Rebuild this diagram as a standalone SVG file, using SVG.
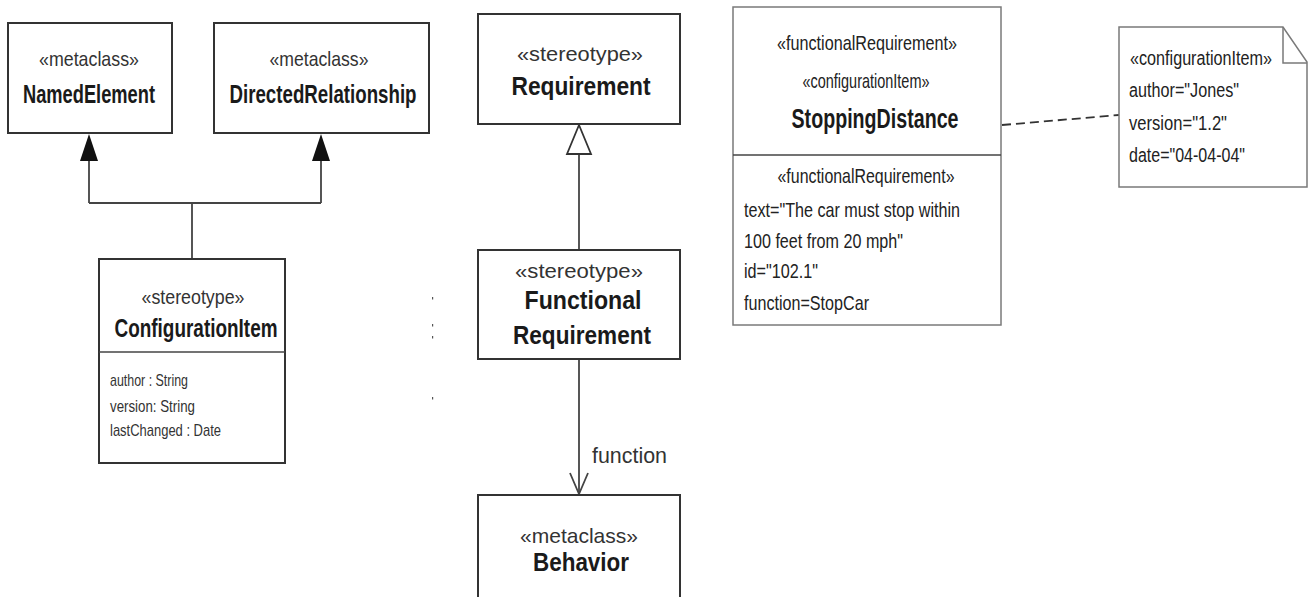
<svg xmlns="http://www.w3.org/2000/svg" width="1309" height="597" viewBox="0 0 1309 597">
  <defs>
    <style>
      .box { fill: #ffffff; stroke: #333333; stroke-width: 2; }
      .lbox { fill: #ffffff; stroke: #7a7a7a; stroke-width: 1.5; }
      .sep { stroke: #444444; stroke-width: 1.5; }
      .line { fill: none; stroke: #444444; stroke-width: 1.8; }
      .dash { fill: none; stroke: #333333; stroke-width: 1.8; stroke-dasharray: 9 5; }
      text { font-family: "Liberation Sans", Arial, sans-serif; fill: #1a1a1a; }
      .st { font-size: 21px; fill: #333333; }
      .nm { font-size: 26px; font-weight: bold; }
      .c { text-anchor: middle; }
      .attr { font-size: 17px; fill: #333333; }
      .big { font-size: 28px; font-weight: bold; }
      .val { font-size: 21px; fill: #222222; }
      .nt { font-size: 20px; fill: #222222; }
    </style>
  </defs>

  <!-- connectors -->
  <g id="connectors">
    <!-- ConfigurationItem extends NamedElement and DirectedRelationship -->
    <path class="line" d="M192,259 L192,203 M89,203 L321,203 M89,203 L89,160 M321,203 L321,160"/>
    <path d="M89,134 L98,161 L80,161 Z" fill="#111111"/>
    <path d="M321,134 L330,161 L312,161 Z" fill="#111111"/>
    <!-- generalization FunctionalRequirement -> Requirement -->
    <path class="line" d="M579,250 L579,154"/>
    <path d="M579,125 L591,154 L567,154 Z" fill="#ffffff" stroke="#333333" stroke-width="1.8"/>
    <!-- association "function" -->
    <path class="line" d="M579,359 L579,494"/>
    <path class="line" d="M570,473 L579,494 L588,473"/>
    <text x="592" y="463" style="font-size:22px;fill:#333333" textLength="75" lengthAdjust="spacingAndGlyphs">function</text>
    <!-- note anchor -->
    <path class="dash" d="M1002,125 L1119,115"/>
  </g>

  <!-- metaclass NamedElement -->
  <g id="namedElement">
    <rect class="box" x="8" y="23" width="164" height="110"/>
    <text class="st c" x="89" y="66" textLength="100" lengthAdjust="spacingAndGlyphs">«metaclass»</text>
    <text class="nm c" x="89" y="103" textLength="132" lengthAdjust="spacingAndGlyphs">NamedElement</text>
  </g>

  <!-- metaclass DirectedRelationship -->
  <g id="directedRelationship">
    <rect class="box" x="214" y="23" width="215" height="110"/>
    <text class="st c" x="319" y="66" textLength="99" lengthAdjust="spacingAndGlyphs">«metaclass»</text>
    <text class="nm c" x="323" y="103" textLength="187" lengthAdjust="spacingAndGlyphs">DirectedRelationship</text>
  </g>

  <!-- stereotype ConfigurationItem -->
  <g id="configurationItem">
    <rect class="box" x="99" y="259" width="186" height="204"/>
    <line class="sep" x1="99" y1="352" x2="285" y2="352"/>
    <text class="st c" x="193" y="304" textLength="103" lengthAdjust="spacingAndGlyphs">«stereotype»</text>
    <text class="nm c" x="196" y="337" textLength="163" lengthAdjust="spacingAndGlyphs">ConfigurationItem</text>
    <text class="attr" x="110" y="386" textLength="78" lengthAdjust="spacingAndGlyphs">author : String</text>
    <text class="attr" x="110" y="412" textLength="85" lengthAdjust="spacingAndGlyphs">version: String</text>
    <text class="attr" x="110" y="436" textLength="111" lengthAdjust="spacingAndGlyphs">lastChanged : Date</text>
  </g>

  <!-- stereotype Requirement -->
  <g id="requirement">
    <rect class="box" x="478" y="14" width="202" height="110"/>
    <text class="st c" x="580" y="61" textLength="126" lengthAdjust="spacingAndGlyphs">«stereotype»</text>
    <text class="nm c" x="581" y="95" textLength="139" lengthAdjust="spacingAndGlyphs">Requirement</text>
  </g>

  <!-- stereotype Functional Requirement -->
  <g id="functionalRequirement">
    <rect class="box" x="478" y="250" width="202" height="109"/>
    <text class="st c" x="579" y="278" textLength="128" lengthAdjust="spacingAndGlyphs">«stereotype»</text>
    <text class="nm c" x="583" y="309" textLength="117" lengthAdjust="spacingAndGlyphs">Functional</text>
    <text class="nm c" x="582" y="344" textLength="138" lengthAdjust="spacingAndGlyphs">Requirement</text>
  </g>

  <!-- metaclass Behavior -->
  <g id="behavior">
    <rect class="box" x="478" y="495" width="202" height="120"/>
    <text class="st c" x="579" y="543" textLength="118" lengthAdjust="spacingAndGlyphs">«metaclass»</text>
    <text class="nm c" x="581" y="571" textLength="96" lengthAdjust="spacingAndGlyphs">Behavior</text>
  </g>

  <!-- instance StoppingDistance -->
  <g id="stoppingDistance">
    <rect class="lbox" x="733" y="7" width="268" height="318"/>
    <line class="sep" x1="733" y1="155" x2="1001" y2="155"/>
    <text class="val c" x="867" y="50" textLength="180" lengthAdjust="spacingAndGlyphs">«functionalRequirement»</text>
    <text class="val c" x="866" y="88" textLength="127" lengthAdjust="spacingAndGlyphs">«configurationItem»</text>
    <text class="big c" x="875" y="128" textLength="167" lengthAdjust="spacingAndGlyphs">StoppingDistance</text>
    <text class="val c" x="866" y="183" textLength="177" lengthAdjust="spacingAndGlyphs">«functionalRequirement»</text>
    <text class="val" x="744" y="217" textLength="216" lengthAdjust="spacingAndGlyphs">text="The car must stop within</text>
    <text class="val" x="744" y="248" textLength="159" lengthAdjust="spacingAndGlyphs">100 feet from 20 mph"</text>
    <text class="val" x="744" y="278" textLength="74" lengthAdjust="spacingAndGlyphs">id="102.1"</text>
    <text class="val" x="744" y="310" textLength="125" lengthAdjust="spacingAndGlyphs">function=StopCar</text>
  </g>

  <!-- note with configurationItem tagged values -->
  <g id="configNote">
    <path class="lbox" d="M1119,27 L1283,27 L1307,62 L1307,187 L1119,187 Z"/>
    <path d="M1283,27 L1283,63 L1307,63" fill="none" stroke="#7a7a7a" stroke-width="1.5"/>
    <text class="nt" x="1130" y="65" textLength="142" lengthAdjust="spacingAndGlyphs">«configurationItem»</text>
    <text class="nt" x="1129" y="97" textLength="110" lengthAdjust="spacingAndGlyphs">author="Jones"</text>
    <text class="nt" x="1129" y="130" textLength="98" lengthAdjust="spacingAndGlyphs">version="1.2"</text>
    <text class="nt" x="1129" y="162" textLength="116" lengthAdjust="spacingAndGlyphs">date="04-04-04"</text>
  </g>

  <!-- small specks left of the centre column -->
  <g fill="#555555">
    <rect x="432" y="297" width="1.2" height="2.5"/>
    <rect x="432" y="324" width="1.2" height="2.5"/>
    <rect x="432" y="336" width="1.2" height="2.5"/>
    <rect x="432" y="397" width="1.2" height="2.5"/>
  </g>
</svg>
